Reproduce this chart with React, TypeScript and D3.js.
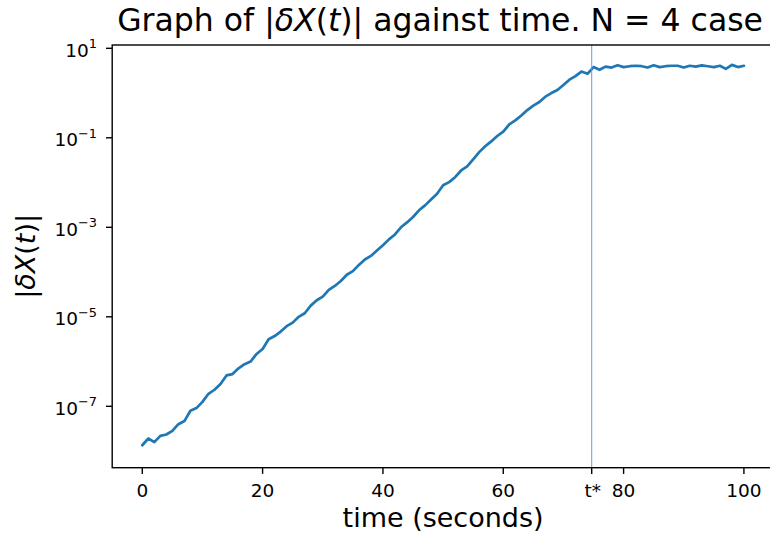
import React from 'react';
import * as d3 from 'd3';

// sample times (seconds)
const timeSeconds: number[] = d3.range(0, 101, 1);

// log10 |δX(t)|, one per second
const log10DeltaX: number[] = [
  -7.87, -7.72, -7.80, -7.66, -7.63, -7.55, -7.40, -7.33, -7.10, -7.04,
  -6.90, -6.72, -6.63, -6.50, -6.31, -6.28, -6.15, -6.06, -6.00, -5.83,
  -5.72, -5.50, -5.43, -5.33, -5.21, -5.13, -5.00, -4.92, -4.75, -4.63,
  -4.55, -4.40, -4.31, -4.20, -4.06, -3.98, -3.84, -3.72, -3.64, -3.52,
  -3.40, -3.27, -3.16, -3.00, -2.89, -2.77, -2.62, -2.51, -2.38, -2.25,
  -2.06, -1.99, -1.88, -1.73, -1.64, -1.48, -1.32, -1.19, -1.08, -0.96,
  -0.86, -0.70, -0.61, -0.50, -0.38, -0.28, -0.20, -0.08, 0.00, 0.07,
  0.18, 0.30, 0.38, 0.48, 0.43, 0.58, 0.52, 0.59, 0.57, 0.62,
  0.58, 0.60, 0.61, 0.60, 0.57, 0.62, 0.58, 0.60, 0.61, 0.61,
  0.57, 0.61, 0.59, 0.62, 0.60, 0.58, 0.61, 0.54, 0.63, 0.58,
  0.61,
];

const xTicks: number[] = [0, 20, 40, 60, 80, 100];
const yTickExponents: number[] = [1, -1, -3, -5, -7];
const tStar = 74.7;
const tStarLabel = 't*';

const W = 770;
const H = 533;
const left = 112.2;
const right = 774;
const top = 45;
const bottom = 467.7;

export default function App() {
  const x = d3.scaleLinear().domain([-5, 105]).range([left, right]);
  const y = d3
    .scaleLog()
    .domain([Math.pow(10, -8.372), Math.pow(10, 1.074)])
    .range([bottom, top]);

  const data = timeSeconds.map((t, i) => ({ t, v: Math.pow(10, log10DeltaX[i]) }));
  const line = d3
    .line<{ t: number; v: number }>()
    .x((d) => x(d.t))
    .y((d) => y(d.v));

  const font = 'DejaVu Sans';
  const tickFs = 18.5;
  const labelFs = 27;
  const titleFs = 31.5;
  const tickLen = 6.2;
  const spineW = 1.4;

  return (
    <svg
      width={W}
      height={H}
      style={{ position: 'absolute', left: 0, top: 0, display: 'block', background: '#fff' }}
      fontFamily={font}
    >
      <defs>
        <clipPath id="plotArea">
          <rect x={left} y={top} width={right - left} height={bottom - top} />
        </clipPath>
      </defs>
      <rect x={0} y={0} width={W} height={H} fill="#fff" />

      {/* data line */}
      <path
        d={line(data) || ''}
        fill="none"
        stroke="#1f77b4"
        strokeWidth={2.7}
        strokeLinejoin="round"
        strokeLinecap="round"
        clipPath="url(#plotArea)"
      />

      {/* vertical t* line */}
      <line
        x1={x(tStar)}
        x2={x(tStar)}
        y1={top}
        y2={bottom}
        stroke="#6f97e3"
        strokeWidth={1}
      />

      {/* spines */}
      <rect
        x={left}
        y={top}
        width={right - left}
        height={bottom - top}
        fill="none"
        stroke="#000"
        strokeWidth={spineW}
      />

      {/* x ticks */}
      {xTicks.map((t) => (
        <g key={'xt' + t}>
          <line x1={x(t)} x2={x(t)} y1={bottom} y2={bottom + tickLen} stroke="#000" strokeWidth={spineW} />
          <text x={x(t)} y={497} textAnchor="middle" fontSize={tickFs} fill="#000">
            {t}
          </text>
        </g>
      ))}
      <g>
        <line x1={x(tStar)} x2={x(tStar)} y1={bottom} y2={bottom + tickLen} stroke="#000" strokeWidth={spineW} />
        <text x={x(tStar) + 1} y={497} textAnchor="middle" fontSize={tickFs} fill="#000">
          {tStarLabel}
        </text>
      </g>

      {/* y ticks */}
      {yTickExponents.map((e) => {
        const yy = y(Math.pow(10, e));
        const expStr = e < 0 ? '\u2212' + Math.abs(e) : String(e);
        return (
          <g key={'yt' + e}>
            <line x1={left - tickLen} x2={left} y1={yy} y2={yy} stroke="#000" strokeWidth={spineW} />
            <text x={97} y={yy + 8.5} textAnchor="end" fontSize={tickFs} fill="#000">
              <tspan>10</tspan>
              <tspan dy={-8.5} fontSize={tickFs * 0.7}>
                {expStr}
              </tspan>
            </text>
          </g>
        );
      })}

      {/* axis labels */}
      <text x={(left + right) / 2} y={527} textAnchor="middle" fontSize={labelFs} fill="#000">
        time (seconds)
      </text>
      <text
        transform={`translate(35, ${(top + bottom) / 2}) rotate(-90)`}
        textAnchor="middle"
        fontSize={labelFs}
        fill="#000"
      >
        <tspan>|</tspan>
        <tspan fontStyle="italic">δX</tspan>
        <tspan>(</tspan>
        <tspan fontStyle="italic">t</tspan>
        <tspan>)|</tspan>
      </text>

      {/* title */}
      <text x={(left + right) / 2 - 3} y={31} textAnchor="middle" fontSize={titleFs} fill="#000">
        <tspan>Graph of |</tspan>
        <tspan fontStyle="italic">δX</tspan>
        <tspan>(</tspan>
        <tspan fontStyle="italic">t</tspan>
        <tspan>)| against time. N = 4 case</tspan>
      </text>
    </svg>
  );
}
